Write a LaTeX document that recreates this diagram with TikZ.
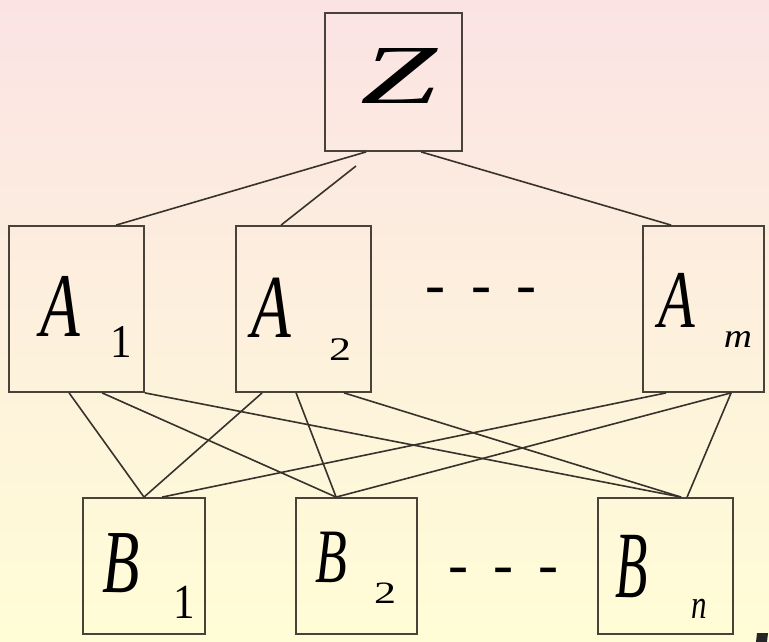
\documentclass[tikz,border=0pt]{standalone}
\usepackage{fontspec}
\setmainfont{Liberation Serif}
\usepackage{graphicx}
\definecolor{bgtop}{RGB}{251,227,228}
\definecolor{bgmid}{RGB}{253,243,226}
\definecolor{bgbot}{RGB}{255,253,214}
\definecolor{boxc}{RGB}{72,66,58}
\definecolor{linkc}{RGB}{55,51,44}
\newcommand{\gl}[3]{\scalebox{#1}[#2]{\fontsize{100}{100}\selectfont #3}}
\tikzset{
  box/.style={draw=boxc, line width=1.8pt, inner sep=0pt},
  link/.style={draw=linkc, line width=1.6pt},
  lbl/.style={anchor=base, inner sep=0pt, text=black},
  dots/.style={anchor=center, inner sep=0pt, text=black, font=\fontsize{60}{60}\selectfont}
}
\begin{document}
\begin{tikzpicture}[x=1pt,y=-1pt]
\useasboundingbox (0,0) rectangle (769,642);
\shade[top color=bgtop, middle color=bgmid, bottom color=bgbot] (0,0) rectangle (769,642);

% boxes
\node[box, minimum width=137pt, minimum height=138pt] (Z) at (393.5,82) {};
\node[box, minimum width=135pt, minimum height=166pt] (A1) at (76.5,309) {};
\node[box, minimum width=135pt, minimum height=166pt] (A2) at (303.5,309) {};
\node[box, minimum width=121pt, minimum height=166pt] (Am) at (703.5,309) {};
\node[box, minimum width=122pt, minimum height=136pt] (B1) at (144,566) {};
\node[box, minimum width=121pt, minimum height=136pt] (B2) at (356.5,566) {};
\node[box, minimum width=135pt, minimum height=136pt] (Bn) at (665.5,566) {};

% labels
\node[lbl] (tZ) at (398.5,103) {\gl{1.38}{0.84}{\itshape Z}};
\node[lbl] (tA1) at (60,336) {\gl{0.65}{0.91}{\itshape A}};
\node[lbl] (sA1) at (121.5,357) {\gl{0.43}{0.47}{1}};
\node[lbl] (tA2) at (271,337) {\gl{0.65}{0.9}{\itshape A}};
\node[lbl] (sA2) at (340,360) {\gl{0.44}{0.33}{2}};
\node[lbl] (tAm) at (677,327) {\gl{0.6}{0.82}{\itshape A}};
\node[lbl] (sAm) at (738,347) {\gl{0.39}{0.34}{\itshape m}};
\node[lbl] (tB1) at (121,592) {\gl{0.61}{0.9}{\itshape B}};
\node[lbl] (sB1) at (184,618) {\gl{0.43}{0.49}{1}};
\node[lbl] (tB2) at (331,582) {\gl{0.52}{0.77}{\itshape B}};
\node[lbl] (sB2) at (385,603) {\gl{0.44}{0.31}{2}};
\node[lbl] (tBn) at (631.5,597) {\gl{0.53}{0.95}{\itshape B}};
\node[lbl] (sBn) at (699.5,618) {\gl{0.31}{0.41}{\itshape n}};

\node[dots] (dA) at (481,296) {-\hspace{25.5pt}-\hspace{25.5pt}-};
\node[dots] (dB) at (503.5,576) {-\hspace{25.5pt}-\hspace{25.5pt}-};

% cut-off mark at the bottom-right edge
\fill[black!85] (757,633) -- (768,633) -- (767,642) -- (756,642) -- cycle;

% connectors Z -> A
\coordinate (z2) at (356,166);
\draw[link] ([xshift=42pt]Z.south west) -- ([xshift=108pt]A1.north west);
\draw[link] (z2) -- ([xshift=46pt]A2.north west);
\draw[link] ([xshift=97pt]Z.south west) -- ([xshift=29pt]Am.north west);

% connectors A -> B
\draw[link] ([xshift=61pt]A1.south west) -- (B1.north);
\draw[link] ([xshift=94pt]A1.south west) -- ([xshift=41pt]B2.north west);
\draw[link] (A1.south east) -- ([xshift=84pt]Bn.north west);
\draw[link] ([xshift=27pt]A2.south west) -- (B1.north);
\draw[link] ([xshift=61pt]A2.south west) -- ([xshift=41pt]B2.north west);
\draw[link] ([xshift=109pt]A2.south west) -- ([xshift=84pt]Bn.north west);
\draw[link] ([xshift=24pt]Am.south west) -- ([xshift=80pt]B1.north west);
\draw[link] ([xshift=89pt]Am.south west) -- ([xshift=41pt]B2.north west);
\draw[link] ([xshift=89pt]Am.south west) -- ([xshift=90pt]Bn.north west);
\end{tikzpicture}
\end{document}
